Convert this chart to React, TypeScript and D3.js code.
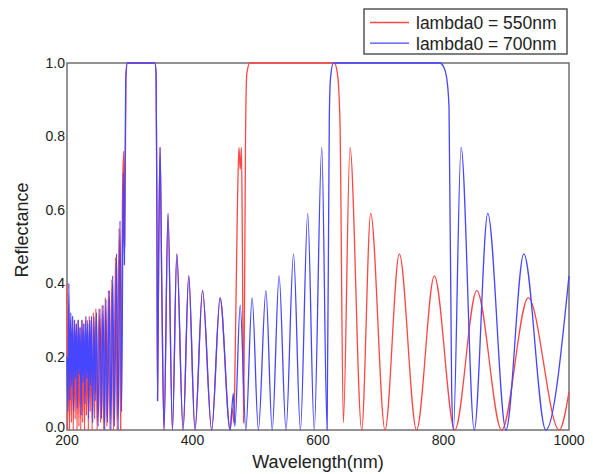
import React, { useEffect, useRef } from 'react'
import * as d3 from 'd3'

type Pt = [number, number]

const xTicks = [200, 400, 600, 800, 1000]
const yTicks = [0, 0.2, 0.4, 0.6, 0.8, 1.0]
const seriesNames = ['lambda0 = 550nm', 'lambda0 = 700nm']
const seriesColors = ['#ff4646', '#4646ff']

// dense oscillations below the 3rd-order band, read by eye
const blueNoise: Pt[] = [
  [200, 0.2], [201.5, 0.05], [203, 0.4], [204.5, 0.08], [206, 0.32], [207.5, 0.12], [209, 0.31],
  [210.5, 0.05], [212, 0.3], [213.5, 0.14], [215, 0.29], [216.5, 0.06], [218, 0.3], [219.5, 0.15],
  [221, 0.28], [222.5, 0.04], [224, 0.3], [225.5, 0.13], [227, 0.29], [228.5, 0.07], [230, 0.31],
  [231.5, 0.14], [233, 0.29], [234.5, 0.03], [236, 0.3], [237.5, 0.12], [239, 0.31], [241, 0.02],
  [243, 0.31], [245, 0.08], [247, 0.32], [249.5, 0.01], [252.5, 0.33], [255, 0.03], [257.5, 0.34],
  [260, 0], [262, 0.355], [264.5, 0.02], [267.5, 0.38], [270, 0], [272.8, 0.42], [275.5, 0.01],
  [279, 0.48], [281.5, 0], [284.5, 0.57], [287, 0.05], [289.8, 0.7], [291.5, 0.45], [293.5, 0.95],
  [296, 1.0],
]

const redNoise: Pt[] = [
  [200, 0.4], [201, 0], [202.5, 0.33], [204, 0], [205.5, 0.3], [207, 0.02], [208.5, 0.31], [210, 0],
  [211.5, 0.3], [213, 0.03], [214.5, 0.29], [216, 0], [217.5, 0.3], [219, 0.01], [220.5, 0.28],
  [222, 0], [223.5, 0.3], [225, 0.02], [226.5, 0.29], [228, 0], [229.5, 0.3], [231, 0.04],
  [232.5, 0.3], [234, 0], [235.5, 0.31], [237, 0.05], [238.5, 0.3], [240, 0], [242, 0.32],
  [244, 0.03], [246, 0.33], [248, 0], [251, 0.33], [253.5, 0.02], [256, 0.34], [258.5, 0],
  [261, 0.36], [263.5, 0.01], [266, 0.38], [268.5, 0], [271.5, 0.41], [274, 0], [277.5, 0.47],
  [280, 0], [283, 0.55], [285.5, 0], [288.5, 0.65], [290.5, 0.76], [292, 0.5], [294, 0.97],
  [296.5, 1.0],
]

// both designs coincide here
const shared: Pt[] = [
  [340, 1.0], [342, 0.97], [343.2, 0.6], [344.3, 0.08], [346, 0.45], [348.3, 0.77], [351, 0.4],
  [354.6, 0], [361, 0.59], [368, 0], [375, 0.48], [385, 0], [394, 0.42], [404, 0], [416, 0.38],
  [430.5, 0], [444, 0.36], [460, 0],
]

const redTail: Pt[] = [
  [463, 0.06], [466, 0.02], [468, 0.2], [471.5, 0.6], [474, 0.77], [476, 0.71], [478, 0.77],
  [479.5, 0.5], [481.5, 0.02], [484.5, 0.8], [486.5, 0.97], [491.5, 1.0], [626, 1.0], [631, 0.97],
  [635, 0.84], [640.4, 0.02], [651, 0.77], [669.6, 0], [684, 0.59], [706.8, 0], [729.6, 0.48],
  [757, 0], [785.4, 0.42], [818, 0], [853, 0.38], [892.7, 0], [935, 0.36], [984.5, 0], [1000, 0.104],
]

const blueTail: Pt[] = [
  [465, 0.1], [467.5, 0.01], [476, 0.34], [485, 0], [495, 0.36], [505, 0], [517, 0.38], [527, 0],
  [538, 0.42], [549, 0], [561, 0.48], [572, 0], [583.6, 0.59], [594, 0], [606, 0.77], [614.5, 0],
  [618, 0.85], [620, 0.96], [624.5, 1.0], [794, 1.0], [800, 0.99], [805, 0.96], [808.8, 0.88],
  [813, 0.11], [815.7, 0], [828, 0.77], [849, 0], [870.5, 0.59], [899.6, 0], [928, 0.48], [963, 0],
  [1000, 0.42],
]

const red = [...redNoise, ...shared, ...redTail]
const blue = [...blueNoise, ...shared, ...blueTail]

export default function App() {
  const ref = useRef<SVGSVGElement>(null)

  useEffect(() => {
    const svg = d3.select(ref.current)
    svg.selectAll('*').remove()
    const font = "'Liberation Sans', Arial, sans-serif"
    const L = 67, R = 569, T = 63, B = 430

    const x = d3.scaleLinear().domain([200, 1000]).range([L, R])
    const y = d3.scaleLinear().domain([0, 1]).range([B, T])

    svg.append('rect').attr('width', 593).attr('height', 474).attr('fill', '#fff')

    svg.append('clipPath').attr('id', 'plotclip')
      .append('rect').attr('x', L - 1).attr('y', T - 1).attr('width', R - L + 2).attr('height', B - T + 2)

    svg.append('rect')
      .attr('x', L).attr('y', T).attr('width', R - L).attr('height', B - T)
      .attr('fill', 'none').attr('stroke', '#707070').attr('stroke-width', 1.5)

    const line = d3.line<Pt>().x(d => x(d[0])).y(d => y(d[1])).curve(d3.curveMonotoneX)
    const g = svg.append('g').attr('clip-path', 'url(#plotclip)')
    ;[red, blue].forEach((data, i) => {
      g.append('path').attr('d', line(data)!)
        .attr('fill', 'none').attr('stroke', seriesColors[i]).attr('stroke-width', 1.3)
    })

    // y labels; the bottom one is nudged up a little so it clears "200"
    svg.append('g').selectAll('text').data(yTicks).enter().append('text')
      .attr('x', L - 2).attr('y', d => (d === 0 ? y(d) - 3 : y(d))).attr('dy', '0.35em')
      .attr('text-anchor', 'end').attr('font-family', font).attr('font-size', 14).attr('fill', '#222')
      .text(d => d3.format('.1f')(d))

    svg.append('g').selectAll('text').data(xTicks).enter().append('text')
      .attr('x', d => x(d)).attr('y', B + 15)
      .attr('text-anchor', 'middle').attr('font-family', font).attr('font-size', 14).attr('fill', '#222')
      .text(d => d)

    svg.append('text').attr('x', (L + R) / 2).attr('y', 468)
      .attr('text-anchor', 'middle').attr('font-family', font).attr('font-size', 18).attr('fill', '#222')
      .text('Wavelength(nm)')

    svg.append('text').attr('transform', 'translate(28,230) rotate(-90)')
      .attr('text-anchor', 'middle').attr('font-family', font).attr('font-size', 18).attr('fill', '#222')
      .text('Reflectance')

    const lg = svg.append('g')
    lg.append('rect').attr('x', 364).attr('y', 9).attr('width', 203).attr('height', 45)
      .attr('fill', '#fff').attr('stroke', '#555').attr('stroke-width', 1.5)
    seriesNames.forEach((name, i) => {
      const yy = 22.5 + i * 20.7
      lg.append('line').attr('x1', 370).attr('x2', 409).attr('y1', yy).attr('y2', yy)
        .attr('stroke', seriesColors[i]).attr('stroke-width', 1.3)
      lg.append('text').attr('x', 416).attr('y', yy).attr('dy', '0.36em')
        .attr('font-family', font).attr('font-size', 17.5).attr('fill', '#222')
        .text(name)
    })
  }, [])

  return <svg ref={ref} width={593} height={474} style={{ position: 'absolute', left: 0, top: 0 }} />
}
